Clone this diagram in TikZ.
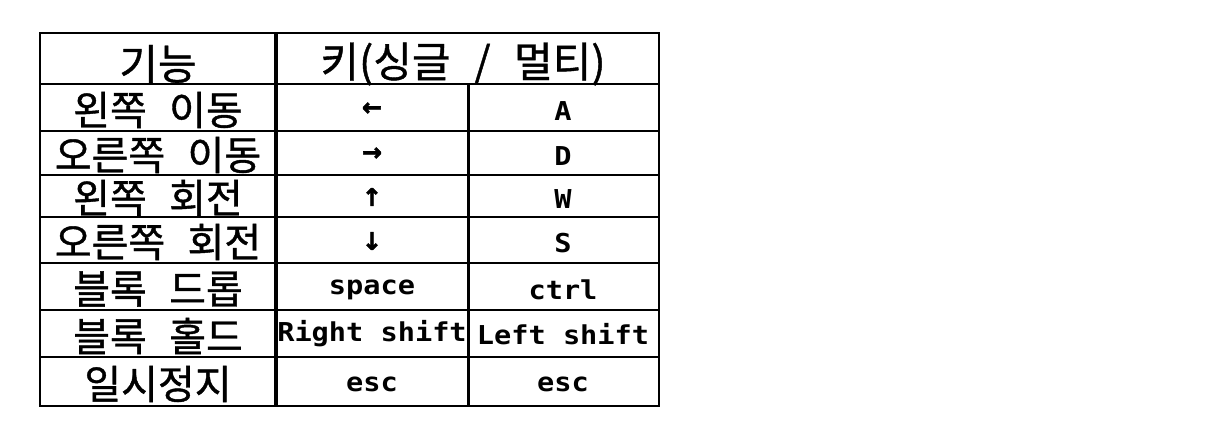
\documentclass[tikz,border=0pt]{standalone}
\usepackage{fontspec}
\newfontfamily\kr[WordSpace=2.5,FakeBold=1]{Noto Sans CJK KR}
\newfontfamily\mn[FakeStretch=1.1]{DejaVu Sans Mono}
\newfontfamily\arw[FakeBold=2.5]{DejaVu Sans}
\begin{document}
\begin{tikzpicture}[x=1pt,y=-1pt,
  ko/.style={font=\kr\fontsize{40}{42}\selectfont, inner sep=0pt, anchor=center},
  kohead/.style={font=\kr\fontsize{42}{44}\selectfont, inner sep=0pt, anchor=center},
  la/.style={font=\mn\bfseries\fontsize{26}{28}\selectfont, inner sep=0pt, anchor=center},
  ar/.style={font=\arw\bfseries\fontsize{24}{26}\selectfont, inner sep=0pt, anchor=center},
  rule/.style={line width=2pt, black},
]
\fill[white] (0,0) rectangle (1230,442);
\useasboundingbox (0,0) rectangle (1230,442);
% grid
\foreach \y in {84,131,175,217,263,310,357} \draw[rule] (40,\y) -- (659,\y);
\draw[line width=4pt] (276,33) -- (276,406);
\draw[line width=3pt] (468,84) -- (468,406);
\draw[rule] (40,33) rectangle (659,406);
% header
\node[kohead] (h1) at (158,64) {기능};
\node[kohead] (h2) at (463,64) {키(싱글 / 멀티)};
% rows
\node[ko] (r1) at (158,110) {왼쪽 이동};
\node[ko] (r2) at (158,155) {오른쪽 이동};
\node[ko] (r3) at (158,198) {왼쪽 회전};
\node[ko] (r4) at (158,242) {오른쪽 회전};
\node[ko] (r5) at (158,289) {블록 드롭};
\node[ko] (r6) at (158,336) {블록 홀드};
\node[ko] (r7) at (158,384) {일시정지};
% single
\node[ar] (s1) at (372,109) {←};
\node[ar] (s2) at (372,154) {→};
\node[ar] (s3) at (372,197) {↑};
\node[ar] (s4) at (372,241) {↓};
\node[la] (s5) at (372,290) {space};
\node[la] (s6) at (372,334) {Right shift};
\node[la] (s7) at (372,384) {esc};
% multi
\node[la] (m1) at (563,111) {A};
\node[la] (m2) at (563,156) {D};
\node[la] (m3) at (563,199) {W};
\node[la] (m4) at (563,243) {S};
\node[la] (m5) at (563,290) {ctrl};
\node[la] (m6) at (563,334) {Left shift};
\node[la] (m7) at (563,384) {esc};
\end{tikzpicture}
\end{document}
